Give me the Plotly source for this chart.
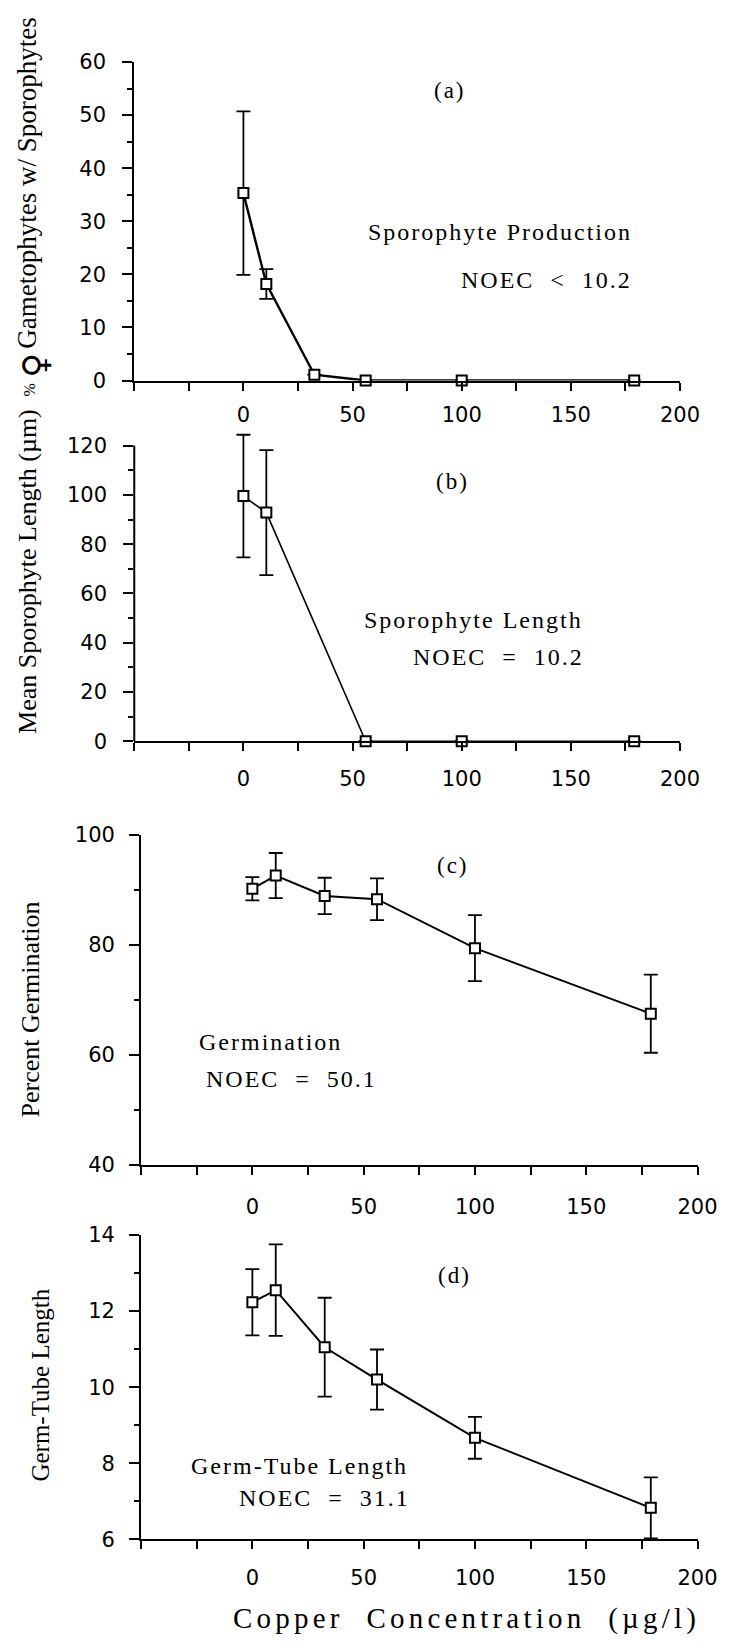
import plotly.graph_objects as go

# ---------------- data ----------------
conc = [0, 10.5, 32.5, 56, 100, 179]

# (a) sporophyte production
a_y = [35.3, 18.2, 1.1, 0, 0, 0]
a_err = [15.4, 2.8, None, None, None, None]

# (b) sporophyte length (no point at ~32)
b_x = [0, 10.5, 56, 100, 179]
b_y = [99.5, 92.8, 0, 0, 0]
b_err = [24.9, 25.4, None, None, None]

# (c) germination
c_y = [90.2, 92.6, 88.9, 88.3, 79.4, 67.5]
c_err = [2.1, 4.1, 3.3, 3.8, 6.0, 7.1]

# (d) germ-tube length
d_y = [12.23, 12.55, 11.05, 10.2, 8.67, 6.83]
d_err = [0.87, 1.2, 1.3, 0.79, 0.55, 0.8]

x_ticks = [0, 50, 100, 150, 200]
x_minor = [-50, -25, 25, 75, 125, 175]
a_ticks = [0, 10, 20, 30, 40, 50, 60]
a_minor = [5, 15, 25, 35, 45, 55]
b_ticks = [0, 20, 40, 60, 80, 100, 120]
b_minor = [10, 30, 50, 70, 90, 110]
c_ticks = [40, 60, 80, 100]
c_minor = [50, 70, 90]
d_ticks = [6, 8, 10, 12, 14]
d_minor = [7, 9, 11, 13]

W, H = 737, 1650
SANS = "DejaVu Sans, Liberation Sans, sans-serif"
SERIF = "Liberation Serif, Times New Roman, serif"

def xd(l, r):
    return [l / W, r / W]

def yd(top, bottom):
    return [1 - bottom / H, 1 - top / H]

fig = go.Figure()

def add_panel(idx, xs, ys, errs, lw):
    fig.add_trace(go.Scatter(
        x=xs, y=ys, mode="lines+markers",
        xaxis="x" if idx == 1 else f"x{idx}",
        yaxis="y" if idx == 1 else f"y{idx}",
        line=dict(color="black", width=lw),
        marker=dict(symbol="square", size=10, color="white",
                    line=dict(color="black", width=2)),
        error_y=dict(type="data", array=errs, color="black",
                     thickness=1.8, width=7),
        cliponaxis=False, showlegend=False, hoverinfo="skip",
    ))

add_panel(1, conc, a_y, a_err, 2.4)
add_panel(2, b_x, b_y, b_err, 1.6)
add_panel(3, conc, c_y, c_err, 2.0)
add_panel(4, conc, d_y, d_err, 2.0)

def xaxis(dom, anchor, standoff):
    return dict(domain=dom, anchor=anchor, range=[-50, 200],
                tickmode="array", tickvals=x_ticks,
                ticks="outside", ticklen=8, tickwidth=2, tickcolor="black",
                minor=dict(tickmode="array", tickvals=x_minor, ticks="outside",
                           ticklen=8, tickwidth=1.5, tickcolor="black"),
                showline=True, linewidth=2, linecolor="black",
                showgrid=False, zeroline=False,
                tickfont=dict(family=SANS, size=21, color="black"),
                ticklabelstandoff=standoff)

def yaxis(dom, anchor, rng, tv, mv, standoff, showline=True):
    return dict(domain=dom, anchor=anchor, range=rng,
                tickmode="array", tickvals=tv,
                ticks="outside", ticklen=10, tickwidth=2, tickcolor="black",
                minor=dict(tickmode="array", tickvals=mv, ticks="outside",
                           ticklen=5, tickwidth=1.5, tickcolor="black"),
                showline=showline, linewidth=2, linecolor="black",
                showgrid=False, zeroline=False,
                tickfont=dict(family=SANS, size=21, color="black"),
                ticklabelstandoff=standoff)

# panel (b): extra headroom so the first error bar is not clipped;
# the visible axis line stops at 120 like the original
B_TOP = 126
b_top_px = 740 - (740 - 440) * B_TOP / 120

fig.update_layout(
    width=W, height=H,
    margin=dict(l=0, r=0, t=0, b=0),
    paper_bgcolor="white", plot_bgcolor="white",
    xaxis=xaxis(xd(138, 699), "y", 6),
    yaxis=yaxis(yd(50.7, 374), "x", [0, 60], a_ticks, a_minor, 12),
    xaxis2=xaxis(xd(138, 699), "y2", 10),
    yaxis2=yaxis(yd(b_top_px, 740), "x2", [0, B_TOP], b_ticks, b_minor, 12,
                 showline=False),
    xaxis3=xaxis(xd(145, 717), "y3", 14),
    yaxis3=yaxis(yd(835, 1170), "x3", [40, 100], c_ticks, c_minor, 10),
    xaxis4=xaxis(xd(145, 717), "y4", 10),
    yaxis4=yaxis(yd(1241, 1550), "x4", [6, 14], d_ticks, d_minor, 10),
)

fig.add_shape(type="line", xref="paper", yref="y2",
              x0=138 / W, x1=138 / W, y0=0, y1=b_ticks[-1],
              line=dict(color="black", width=2), layer="above")

NB = "\u00a0"
ann = []

def txt(text, x, y, xref, yref, size=24, ls=2, family=SERIF, **kw):
    if ls:
        text = f"<span style='letter-spacing:{ls}px'>{text}</span>"
    d = dict(text=text, x=x, y=y, xref=xref, yref=yref, showarrow=False,
             font=dict(family=family, size=size, color="black"),
             xanchor="center", yanchor="middle")
    d.update(kw)
    ann.append(d)

# panel labels and descriptions (data coordinates)
txt("(a)", 94.5, 54.6, "x", "y", size=23)
txt("Sporophyte Production", 117.5, 28, "x", "y")
txt(f"NOEC{NB*2}&lt;{NB*2}10.2", 139, 19, "x", "y")

txt("(b)", 96, 105.5, "x2", "y2", size=23)
txt("Sporophyte Length", 105.5, 49.2, "x2", "y2")
txt(f"NOEC{NB*2}={NB*2}10.2", 116.7, 34.2, "x2", "y2")

txt("(c)", 90, 94.4, "x3", "y3", size=23)
txt("Germination", 8, 62.3, "x3", "y3")
txt(f"NOEC{NB*2}={NB*2}50.1", 17.6, 55.6, "x3", "y3")

txt("(d)", 91, 12.93, "x4", "y4", size=23)
txt("Germ-Tube Length", 21, 7.92, "x4", "y4")
txt(f"NOEC{NB*2}={NB*2}31.1", 32.5, 7.08, "x4", "y4")

# axis titles (paper coordinates)
def ptxt(text, px, py, size, angle=0, ls=0, family=SERIF):
    txt(text, px / W, 1 - py / H, "paper", "paper", size=size, ls=ls,
        family=family, textangle=angle)

# (a) title is built from three pieces: "%", a large female sign, and the words
ptxt("Gametophytes w/ Sporophytes", 28, 174, 27, -90)
ptxt("<b>\u2640</b>", 36, 359, 34, -90, family="DejaVu Sans")
ptxt("%", 30, 384, 16, -90)
ptxt("Mean Sporophyte Length (\u00b5m)", 28, 568, 26, -90)
ptxt("Percent Germination", 31, 1012, 26, -90)
ptxt("Germ-Tube Length", 42, 1393, 25, -90)
ptxt(f"Copper{NB*2}Concentration{NB*2}(\u00b5g/l)", 480, 1630, 29, ls=4.2)

fig.update_layout(annotations=ann)

fig.write_html("out.html")
